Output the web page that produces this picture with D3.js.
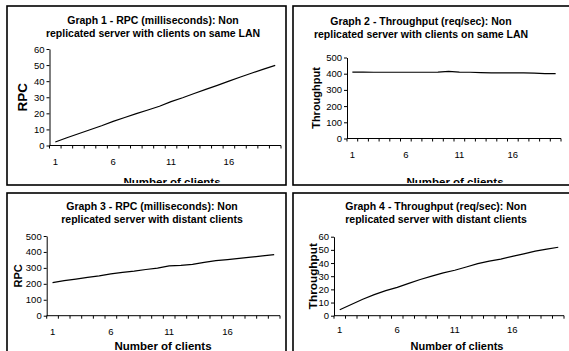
<!DOCTYPE html>
<html>
<head>
<meta charset="utf-8">
<script src="https://cdn.jsdelivr.net/npm/d3@7"></script>
<style>
  body { margin: 0; background: #fff; }
  svg { display: block; font-family: "Liberation Sans", Arial, sans-serif; }
</style>
</head>
<body>
<div id="chart"></div>
<script>
// number of clients (x categories)
const clients = [1, 2, 3, 4, 5, 6, 7, 8, 9, 10, 11, 12, 13, 14, 15, 16, 17, 18, 19, 20];
const xTickLabels = [1, 6, 11, 16];

// Graph 1 - RPC (ms), clients on same LAN
const rpcLan = [2.2, 4.8, 7.3, 9.8, 12.3, 15, 17.4, 19.8, 22.1, 24.4, 27.3, 29.7, 32.3, 34.9, 37.4, 40, 42.6, 45.1, 47.5, 49.8];
// Graph 2 - throughput (req/sec), clients on same LAN
const tputLan = [410, 410, 409, 409, 409, 409, 409, 409, 410, 414, 410, 409, 407, 405, 405, 405, 405, 404, 400, 400];
// Graph 3 - RPC (ms), distant clients
const rpcWan = [208, 220, 230, 240, 250, 262, 272, 280, 290, 298, 312, 316, 322, 335, 345, 352, 360, 367, 375, 383];
// Graph 4 - throughput (req/sec), distant clients
const tputWan = [4.5, 8.5, 12.5, 16, 19, 21.5, 24.5, 27.5, 30, 32.5, 34.5, 37, 39.5, 41.5, 43, 45, 47, 49, 50.5, 52];

const yTicksSmall = [0, 10, 20, 30, 40, 50, 60];
const yTicksLarge = [0, 100, 200, 300, 400, 500];

const width = 569, height = 351;

const svg = d3.select("#chart").append("svg")
    .attr("width", width)
    .attr("height", height);

// layout of each panel (box + plot area)
const panels = [
    {
        id: 1, box: [7, 6, 279, 179],
        title: ["Graph 1 - RPC (milliseconds): Non", "replicated server with clients on same LAN"],
        titleX: 153, titleY: 20, yLabel: "RPC", yLabelX: 22, yLabelSize: 13.5,
        plot: [49.5, 281, 49, 145.5], values: rpcLan, yMax: 60, yTicks: yTicksSmall,
        xLabelY: 186, xLabelX: 172, xLabelSize: 11.5, tickLabelY: 162
    },
    {
        id: 2, box: [293, 6, 290, 179],
        title: ["Graph 2 - Throughput (req/sec): Non", "replicated server with clients on same LAN"],
        titleX: 421, titleY: 21, yLabel: "Throughput", yLabelX: 316, yLabelSize: 11,
        plot: [347, 561, 57.5, 138.5], values: tputLan, yMax: 500, yTicks: yTicksLarge,
        xLabelY: 186, xLabelX: 455, xLabelSize: 11.5, tickLabelY: 155
    },
    {
        id: 3, box: [7, 193, 279, 170],
        title: ["Graph 3 - RPC (milliseconds): Non", "replicated server with distant clients"],
        titleX: 152, titleY: 206, yLabel: "RPC", yLabelX: 18.5, yLabelSize: 11,
        plot: [46.7, 280, 236, 315.7], values: rpcWan, yMax: 500, yTicks: yTicksLarge,
        xLabelY: 350, xLabelX: 163, xLabelSize: 11.5, tickLabelY: 332
    },
    {
        id: 4, box: [293, 193, 290, 170],
        title: ["Graph 4 - Throughput (req/sec): Non", "replicated server with distant clients"],
        titleX: 436, titleY: 206, yLabel: "Throughput", yLabelX: 312.5, yLabelSize: 11.8,
        plot: [334, 564, 236.7, 315.7], values: tputWan, yMax: 60, yTicks: yTicksSmall,
        xLabelY: 350, xLabelX: 457, xLabelSize: 11, tickLabelY: 330
    }
];

const defs = svg.append("defs");

panels.forEach(p => {
    const [bx, by, bw, bh] = p.box;
    defs.append("clipPath")
        .attr("id", `clip-${p.id}`)
        .append("rect")
        .attr("x", bx + 1).attr("y", by + 1)
        .attr("width", bw - 2).attr("height", bh - 3);

    const g = svg.append("g").attr("clip-path", `url(#clip-${p.id})`);

    const [x0, x1, yTop, yBottom] = p.plot;
    const x = d3.scaleBand().domain(clients).range([x0, x1]);
    const y = d3.scaleLinear().domain([0, p.yMax]).range([yBottom, yTop]);

    // title
    const title = g.append("text")
        .attr("text-anchor", "middle")
        .attr("font-weight", "bold")
        .attr("font-size", 10.5);
    p.title.forEach((t, i) => {
        title.append("tspan")
            .attr("x", p.titleX)
            .attr("y", p.titleY + i * 13.5)
            .attr("dy", "0.35em")
            .text(t);
    });

    // y axis
    g.append("g")
        .attr("transform", `translate(${x0},0)`)
        .call(d3.axisLeft(y).tickValues(p.yTicks).tickSize(3).tickPadding(2).tickSizeOuter(0))
        .call(a => a.select(".domain").attr("stroke", "#000"))
        .call(a => a.selectAll("line").attr("stroke", "#000"))
        .call(a => a.selectAll("text").attr("font-size", 9.5).attr("fill", "#000")
            .attr("font-family", "'Liberation Sans', Arial, sans-serif"));

    // x axis line and category boundary ticks
    g.append("line")
        .attr("x1", x0).attr("x2", x1)
        .attr("y1", yBottom).attr("y2", yBottom)
        .attr("stroke", "#000");
    g.selectAll(".xtick")
        .data(clients.concat([null]))
        .enter().append("line")
        .attr("x1", (d, i) => x0 + i * x.bandwidth())
        .attr("x2", (d, i) => x0 + i * x.bandwidth())
        .attr("y1", yBottom).attr("y2", yBottom + 3)
        .attr("stroke", "#000");
    g.selectAll(".xlabel")
        .data(xTickLabels)
        .enter().append("text")
        .attr("x", d => x(d) + x.bandwidth() / 2)
        .attr("y", p.tickLabelY)
        .attr("text-anchor", "middle")
        .attr("dy", "0.35em")
        .attr("font-size", 9.5)
        .text(d => d);

    // axis titles
    g.append("text")
        .attr("transform", `translate(${p.yLabelX},${(yTop + yBottom) / 2}) rotate(-90)`)
        .attr("text-anchor", "middle")
        .attr("dy", "0.35em")
        .attr("font-weight", "bold")
        .attr("font-size", p.yLabelSize)
        .text(p.yLabel);
    g.append("text")
        .attr("x", p.xLabelX)
        .attr("y", p.xLabelY)
        .attr("text-anchor", "middle")
        .attr("font-weight", "bold")
        .attr("font-size", p.xLabelSize)
        .text("Number of clients");

    // data line
    const line = d3.line()
        .x((d, i) => x(clients[i]) + x.bandwidth() / 2)
        .y(d => y(d));
    g.append("path")
        .datum(p.values)
        .attr("d", line)
        .attr("fill", "none")
        .attr("stroke", "#000")
        .attr("stroke-width", 1.2);

    // panel border
    svg.append("rect")
        .attr("x", bx).attr("y", by)
        .attr("width", bw).attr("height", bh)
        .attr("fill", "none")
        .attr("stroke", "#000")
        .attr("stroke-width", 1.6);
});
</script>
</body>
</html>
